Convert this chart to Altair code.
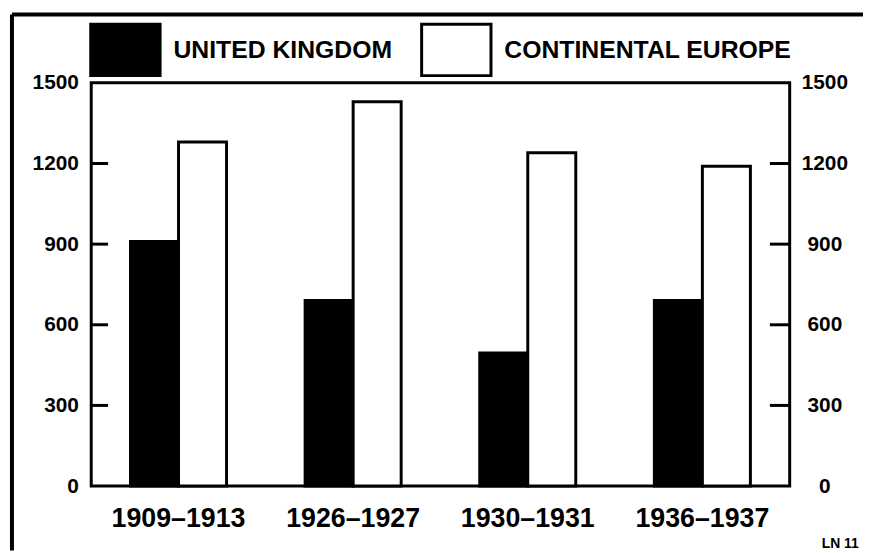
import altair as alt
import pandas as pd

periods = ["1909–1913", "1926–1927", "1930–1931", "1936–1937"]
series = ["UNITED KINGDOM", "CONTINENTAL EUROPE"]
uk = [910, 690, 495, 690]
europe = [1280, 1430, 1240, 1190]
y_ticks = [0, 300, 600, 900, 1200, 1500]
inner_ticks = [300, 600, 900, 1200]
note = "LN 11"

rows = []
for p, a, b in zip(periods, uk, europe):
    rows.append({"period": p, "series": series[0], "value": a})
    rows.append({"period": p, "series": series[1], "value": b})
df = pd.DataFrame(rows)
ticks_df = pd.DataFrame({"v": inner_ticks})
one = pd.DataFrame({"a": [0]})

FONT = "Liberation Sans"
yscale = alt.Scale(domain=[0, 1500], nice=False)

bars = alt.Chart(df).mark_bar(stroke="black", strokeWidth=3).encode(
    x=alt.X("period:N", sort=periods,
            scale=alt.Scale(paddingInner=0.45, paddingOuter=0.225),
            axis=alt.Axis(title=None, labelAngle=0, ticks=False, tickSize=0, domain=False,
                          labelFont=FONT, labelFontSize=27, labelFontWeight="bold",
                          labelColor="black", labelPadding=20)),
    xOffset=alt.XOffset("series:N", sort=series, scale=alt.Scale(paddingInner=0, paddingOuter=0)),
    y=alt.Y("value:Q", scale=yscale,
            axis=alt.Axis(orient="left", values=y_ticks, format="d", grid=False, ticks=False,
                          tickSize=0, domain=False, title=None, labelPadding=13, labelFont=FONT,
                          labelFontSize=21, labelFontWeight="bold", labelColor="black")),
    fill=alt.Fill("series:N", sort=series,
                  scale=alt.Scale(domain=series, range=["black", "white"]),
                  legend=alt.Legend(orient="none", legendX=-2, legendY=-70, direction="horizontal",
                                    title=None, symbolType="M-1,-0.74H1V0.74H-1Z", symbolSize=4900,
                                    symbolStrokeColor="black", symbolStrokeWidth=3,
                                    labelFont=FONT, labelFontSize=25, labelFontWeight="bold",
                                    labelColor="black", labelOffset=12, columnPadding=23,
                                    labelLimit=600, padding=0)),
)

left_ticks = alt.Chart(ticks_df).mark_rule(color="black", strokeWidth=3).encode(
    y=alt.Y("v:Q", scale=yscale, axis=None),
    x=alt.value(0), x2=alt.value(17),
)

right_ticks = alt.Chart(ticks_df).mark_rule(color="black", strokeWidth=3).encode(
    y=alt.Y("v:Q", scale=yscale,
            axis=alt.Axis(orient="right", values=y_ticks, format="d", grid=False, ticks=False,
                          tickSize=0, domain=False, title=None, labelPadding=35,
                          labelAlign="center", labelFont=FONT, labelFontSize=21,
                          labelFontWeight="bold", labelColor="black")),
    x=alt.value(685), x2=alt.value(705),
)

frame_left = alt.Chart(one).mark_rule(color="black", strokeWidth=4).encode(
    x=alt.value(-80), y=alt.value(-69), y2=alt.value(472))
frame_top = alt.Chart(one).mark_rule(color="black", strokeWidth=4).encode(
    x=alt.value(-80), x2=alt.value(779), y=alt.value(-69))

note_text = alt.Chart(one).mark_text(text=note, font=FONT, fontSize=14, fontWeight="bold",
                                     color="black", align="center", baseline="alphabetic").encode(
    x=alt.value(756), y=alt.value(469))

chart = alt.layer(bars, left_ticks, right_ticks, frame_left, frame_top, note_text).resolve_axis(
    y="independent"
).properties(
    width=705, height=407,
    padding={"left": 84, "top": 73, "right": 74, "bottom": 65},
    autosize=alt.AutoSizeParams(type="none"),
    background="white",
).configure_view(stroke="black", strokeWidth=3)

chart.save("out.html", embed_options={"renderer": "svg", "actions": False})
